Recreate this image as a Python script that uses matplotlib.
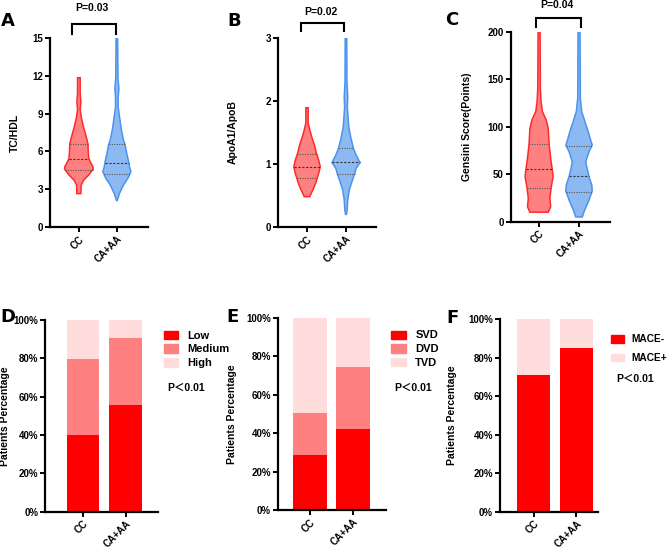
import numpy as np
import matplotlib
matplotlib.use("Agg")
import matplotlib.pyplot as plt
from matplotlib.patches import Patch

plt.rcParams['font.family'] = ['Liberation Sans', 'Noto Sans CJK SC', 'DejaVu Sans']
plt.rcParams['font.weight'] = 'bold'

# ---------------- data ----------------
groups = ["CC", "CA+AA"]

# Violin outlines: value levels and half-widths (category units)
a_cc_y = [2.65, 3.33, 3.73, 4.13, 4.6, 4.8, 5.05, 5.45, 6.1, 6.6, 7.2, 7.96, 8.6, 9.3, 9.95, 10.6, 11.85]
a_cc_w = [0.053, 0.061, 0.13, 0.26, 0.377, 0.37, 0.32, 0.26, 0.245, 0.24, 0.19, 0.12, 0.07, 0.035, 0.053, 0.035, 0.035]
a_ca_y = [2.1, 2.67, 3.33, 3.86, 4.4, 4.8, 5.18, 5.85, 6.5, 6.9, 7.7, 8.75, 9.5, 10.3, 11.0, 11.8, 15.0]
a_ca_w = [0.01, 0.07, 0.175, 0.29, 0.37, 0.33, 0.31, 0.26, 0.22, 0.175, 0.12, 0.07, 0.035, 0.035, 0.053, 0.03, 0.02]
a_quart = {"CC": [4.55, 5.4, 6.56], "CA+AA": [4.23, 5.08, 6.56]}

b_cc_y = [0.48, 0.55, 0.59, 0.69, 0.85, 0.955, 1.06, 1.17, 1.30, 1.43, 1.54, 1.65, 1.89]
b_cc_w = [0.07, 0.12, 0.154, 0.22, 0.30, 0.34, 0.30, 0.24, 0.19, 0.12, 0.07, 0.03, 0.03]
b_ca_y = [0.2, 0.27, 0.43, 0.59, 0.72, 0.84, 0.93, 1.02, 1.14, 1.25, 1.43, 1.59, 1.77, 1.9, 2.06, 2.3, 3.0]
b_ca_w = [0.01, 0.03, 0.045, 0.085, 0.154, 0.22, 0.26, 0.36, 0.26, 0.19, 0.12, 0.07, 0.05, 0.035, 0.045, 0.025, 0.02]
b_quart = {"CC": [0.77, 0.955, 1.15], "CA+AA": [0.845, 1.025, 1.25]}

c_cc_y = [10, 15.8, 24.6, 35, 47.4, 55, 66.7, 82.5, 98, 107, 116, 126, 140, 200]
c_cc_w = [0.23, 0.29, 0.27, 0.30, 0.35, 0.33, 0.29, 0.25, 0.23, 0.18, 0.083, 0.05, 0.033, 0.025]
c_ca_y = [5, 10.5, 22.8, 32.3, 38.6, 47.4, 54.4, 63, 73.7, 80.7, 86, 94.7, 105, 116, 130, 200]
c_ca_w = [0.083, 0.125, 0.25, 0.33, 0.32, 0.25, 0.21, 0.167, 0.25, 0.33, 0.29, 0.23, 0.15, 0.067, 0.033, 0.025]
c_quart = {"CC": [35.2, 55.2, 81.8], "CA+AA": [31.6, 48.1, 80.0]}

# Stacked percentages
d_labels = ["Low", "Medium", "High"]
d_low = [40.0, 55.5]
d_medium = [39.5, 35.0]
d_high = [20.5, 9.5]

e_labels = ["SVD", "DVD", "TVD"]
e_svd = [28.5, 42.0]
e_dvd = [22.0, 32.5]
e_tvd = [49.5, 25.5]

f_labels = ["MACE-", "MACE+"]
f_neg = [71.0, 85.0]
f_pos = [29.0, 15.0]

p_violin = ["P=0.03", "P=0.02", "P=0.04"]
p_bars = "P\uff1c0.01"

# ---------------- style ----------------
RED_FILL = "#FF8080"
RED_EDGE = "#FF2A2A"
BLUE_FILL = "#8DB9F2"
BLUE_EDGE = "#4A94EC"
C1 = "#FF0000"
C2 = "#FF8080"
C3 = "#FFDDDD"
TICK_FS = 7.0
LAB_FS = 7.5

W, H = 669, 551
fig = plt.figure(figsize=(W / 100, H / 100), dpi=100)


def ax_px(l, r, t, b):
    return fig.add_axes([l / W, 1 - b / H, (r - l) / W, (b - t) / H])


def style_ax(ax):
    for s in ["top", "right"]:
        ax.spines[s].set_visible(False)
    for s in ["left", "bottom"]:
        ax.spines[s].set_linewidth(1.6)
    ax.tick_params(axis='both', width=1.4, length=3.5, labelsize=TICK_FS, pad=1.5)
    for lab in ax.get_yticklabels():
        lab.set_fontweight('bold')
    ax.set_xticks([0, 1])
    ax.set_xticklabels(groups, rotation=45, ha='right', rotation_mode='anchor',
                       fontsize=TICK_FS, fontweight='bold')


def violin(ax, x0, ys, ws, quart, fill, edge):
    ys = np.asarray(ys, float)
    ws = np.asarray(ws, float)
    xs = np.concatenate([x0 - ws, (x0 + ws)[::-1]])
    yy = np.concatenate([ys, ys[::-1]])
    ax.fill(xs, yy, facecolor=fill, edgecolor=edge, linewidth=1.1, zorder=2)
    for i, q in enumerate(quart):
        hw = np.interp(q, ys, ws)
        ls = (0, (2, 1.5)) if i == 1 else (0, (1, 1.2))
        col = "#333333" if i == 1 else "#555555"
        ax.plot([x0 - hw, x0 + hw], [q, q], color=col, lw=0.8, ls=ls, zorder=3)


def bracket(ax, x1, x2, ytop, ybot, text, ytext):
    ax.plot([x1, x1, x2, x2], [ybot, ytop, ytop, ybot], color='black', lw=1.5,
            clip_on=False, solid_joinstyle='miter')
    ax.text((x1 + x2) / 2 - 0.05, ytext, text, ha='center', va='center',
            fontsize=7.5, fontweight='bold', clip_on=False)


# ---- A ----
axA = ax_px(50, 148, 38, 227)
violin(axA, 0, a_cc_y, a_cc_w, a_quart["CC"], RED_FILL, RED_EDGE)
violin(axA, 1, a_ca_y, a_ca_w, a_quart["CA+AA"], BLUE_FILL, BLUE_EDGE)
axA.set_xlim(-0.76, 1.82)
axA.set_ylim(0, 15)
axA.set_yticks([0, 3, 6, 9, 12, 15])
style_ax(axA)
axA.set_ylabel("TC/HDL", fontsize=LAB_FS, fontweight='bold')
axA.yaxis.set_label_coords(-0.31, 0.5)
bracket(axA, -0.18, 0.98, 16.1, 15.35, p_violin[0], 17.35)

# ---- B ----
axB = ax_px(278, 376, 37.7, 227)
violin(axB, 0, b_cc_y, b_cc_w, b_quart["CC"], RED_FILL, RED_EDGE)
violin(axB, 1, b_ca_y, b_ca_w, b_quart["CA+AA"], BLUE_FILL, BLUE_EDGE)
axB.set_xlim(-0.744, 1.77)
axB.set_ylim(0, 3)
axB.set_yticks([0, 1, 2, 3])
style_ax(axB)
axB.set_ylabel("ApoA1/ApoB", fontsize=LAB_FS, fontweight='bold')
axB.yaxis.set_label_coords(-0.41, 0.5)
bracket(axB, -0.15, 0.95, 3.24, 3.11, p_violin[1], 3.405)

# ---- C ----
axC = ax_px(510.7, 610, 31.7, 221.7)
violin(axC, 0, c_cc_y, c_cc_w, c_quart["CC"], RED_FILL, RED_EDGE)
violin(axC, 1, c_ca_y, c_ca_w, c_quart["CA+AA"], BLUE_FILL, BLUE_EDGE)
axC.set_xlim(-0.71, 1.775)
axC.set_ylim(0, 200)
axC.set_yticks([0, 50, 100, 150, 200])
style_ax(axC)
axC.set_ylabel("Gensini Score(Points)", fontsize=LAB_FS, fontweight='bold')
axC.yaxis.set_label_coords(-0.39, 0.5)
bracket(axC, -0.08, 1.06, 214.1, 204.6, p_violin[2], 228)


# ---- bar panels ----
def pct_axis(ax, xlim):
    ax.set_xlim(*xlim)
    ax.set_ylim(0, 100)
    ax.set_yticks([0, 20, 40, 60, 80, 100])
    ax.set_yticklabels([f"{v}%" for v in [0, 20, 40, 60, 80, 100]])
    style_ax(ax)
    ax.set_ylabel("Patients Percentage", fontsize=LAB_FS, fontweight='bold')


def add_legend(ax, handles, labels, anchor, spacing, fs=8, tp=0.85):
    ax.legend(handles, labels, loc='upper left', bbox_to_anchor=anchor, frameon=False,
              prop={'size': fs, 'weight': 'bold'}, handlelength=1.3, handleheight=0.75,
              handletextpad=tp, labelspacing=spacing, borderpad=0, borderaxespad=0)


x = np.arange(len(groups))
bw = 0.77

axD = ax_px(45.3, 158, 320, 511.7)
axD.bar(x, d_low, bw, color=C1, label=d_labels[0])
axD.bar(x, d_medium, bw, bottom=d_low, color=C2, label=d_labels[1])
axD.bar(x, d_high, bw, bottom=np.add(d_low, d_medium), color=C3, label=d_labels[2])
pct_axis(axD, (-0.887, 1.76))
axD.yaxis.set_label_coords(-0.31, 0.5)
add_legend(axD, [Patch(color=c) for c in (C1, C2, C3)], d_labels, (1.05, 0.945), 0.35)
axD.text(1.085, 0.645, p_bars, transform=axD.transAxes, fontsize=7.5,
         fontweight='bold', va='center', ha='left')

axE = ax_px(278, 386, 318, 510)
axE.bar(x, e_svd, bw, color=C1)
axE.bar(x, e_dvd, bw, bottom=e_svd, color=C2)
axE.bar(x, e_tvd, bw, bottom=np.add(e_svd, e_dvd), color=C3)
pct_axis(axE, (-0.744, 1.767))
axE.yaxis.set_label_coords(-0.38, 0.5)
add_legend(axE, [Patch(color=c) for c in (C1, C2, C3)], e_labels, (1.05, 0.935), 0.35)
axE.text(1.08, 0.635, p_bars, transform=axE.transAxes, fontsize=7.5,
         fontweight='bold', va='center', ha='left')

axF = ax_px(500, 598, 319, 511.7)
axF.bar(x, f_neg, bw, color=C1)
axF.bar(x, f_pos, bw, bottom=f_neg, color=C3)
pct_axis(axF, (-0.79, 1.51))
axF.yaxis.set_label_coords(-0.44, 0.5)
add_legend(axF, [Patch(color=c) for c in (C1, C3)], f_labels, (1.13, 0.92), 0.85,
           fs=7.3, tp=0.75)
axF.text(1.19, 0.69, p_bars, transform=axF.transAxes, fontsize=7.5,
         fontweight='bold', va='center', ha='left')

# panel letters
for letter, px, py in [("A", 8, 21), ("B", 234, 21), ("C", 452, 20),
                       ("D", 8, 317), ("E", 232, 317), ("F", 452, 318)]:
    fig.text(px / W, 1 - py / H, letter, fontsize=13, fontweight='heavy',
             ha='center', va='center', family=['DejaVu Sans'])

fig.savefig("out.png", dpi=100)
